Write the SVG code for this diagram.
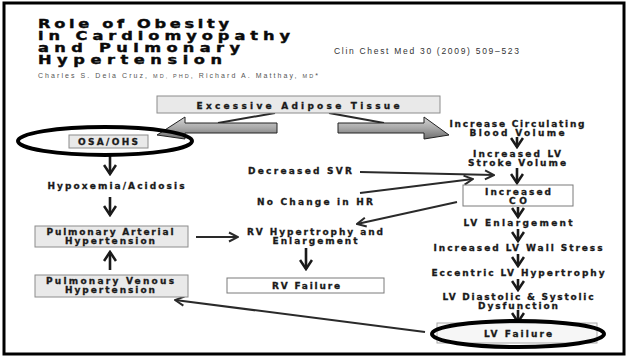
<svg xmlns="http://www.w3.org/2000/svg" width="629" height="358" viewBox="0 0 629 358">
<defs>
<style>
.lbl{font-family:"DejaVu Sans","Liberation Sans",sans-serif;font-weight:bold;font-size:9px;fill:#1a1a1a;stroke:#1a1a1a;stroke-width:0.3;text-anchor:middle}
.ttl{font-family:"DejaVu Sans","Liberation Sans",sans-serif;font-weight:bold;font-size:12px;fill:#0a0a0a;stroke:#0a0a0a;stroke-width:0.4}
.gbox{fill:#e9e9e9;stroke:#8c8c8c;stroke-width:1}
.wbox{fill:#fff;stroke:#7a7a7a;stroke-width:1}
.thick{fill:none;stroke:#1a1a1a;stroke-width:2.6}
.thin{fill:none;stroke:#2a2a2a;stroke-width:2}
.ring{fill:none;stroke:#000;stroke-width:4}
.blk{fill:url(#gr);stroke:#222;stroke-width:1}
</style>
<linearGradient id="gr" x1="0" y1="0" x2="0" y2="1">
<stop offset="0" stop-color="#d6d6d6"/>
<stop offset="0.5" stop-color="#a8a8a8"/>
<stop offset="1" stop-color="#6e6e6e"/>
</linearGradient>
<marker id="hd" viewBox="0 0 14 14" refX="12" refY="7" markerWidth="14" markerHeight="14" markerUnits="userSpaceOnUse" orient="auto">
<path d="M3,1 L12,7 L3,13" fill="none" stroke="#1a1a1a" stroke-width="2.6"/>
</marker>
<marker id="ah" viewBox="0 0 12 12" refX="11" refY="6" markerWidth="12" markerHeight="12" markerUnits="userSpaceOnUse" orient="auto">
<path d="M2,1.5 L11,6 L2,10.5" fill="none" stroke="#2a2a2a" stroke-width="2"/>
</marker>
</defs>
<rect x="0" y="0" width="629" height="358" fill="#fff"/>
<rect x="4" y="3" width="620" height="351" fill="none" stroke="#000" stroke-width="3"/>

<g id="title">
<text class="ttl" transform="translate(38,28) scale(1.35,1)" textLength="141.5" lengthAdjust="spacing">Role of Obesity</text>
<text class="ttl" transform="translate(38,40) scale(1.35,1)" textLength="186.7" lengthAdjust="spacing">in Cardiomyopathy</text>
<text class="ttl" transform="translate(38,52) scale(1.35,1)" textLength="149.6" lengthAdjust="spacing">and Pulmonary</text>
<text class="ttl" transform="translate(38,64) scale(1.35,1)" textLength="136.3" lengthAdjust="spacing">Hypertension</text>
<text x="334" y="54" font-family="Liberation Sans, Arial, sans-serif" font-size="8.5" fill="#333" textLength="185" lengthAdjust="spacing">Clin Chest Med 30 (2009) 509–523</text>
<text x="38" y="78" font-family="Liberation Sans, Arial, sans-serif" font-size="7" fill="#555" textLength="280" lengthAdjust="spacing">Charles S. Dela Cruz, <tspan font-size="5.5">MD, PHD</tspan>, Richard A. Matthay, <tspan font-size="5.5">MD</tspan>*</text>
</g>

<g id="connectors">
<path class="thin" d="M275,113 L218,123"/>
<path class="thin" d="M329,113 L384,123"/>
<polygon class="blk" points="277,123 185,123 185,117 157,135 185,139 185,133 277,133"/>
<polygon class="blk" points="338,123 424,123 424,117 449,135 424,139 424,133 338,133"/>
<path class="thick" d="M110,155 V174" marker-end="url(#hd)"/>
<path class="thick" d="M110,197 V215" marker-end="url(#hd)"/>
<path class="thick" d="M110,270 V252" marker-end="url(#hd)"/>
<path class="thin" d="M196,237 H238" marker-end="url(#ah)"/>
<path class="thick" d="M306,248 V269" marker-end="url(#hd)"/>
<path class="thin" d="M360,172 L494,175" marker-end="url(#ah)"/>
<path class="thin" d="M360,193 L473,179" marker-end="url(#ah)"/>
<path class="thin" d="M457,202 L357,224" marker-end="url(#ah)"/>
<path class="thin" d="M425,332 L175,300" marker-end="url(#ah)"/>
<path class="thick" d="M517,137 V147" marker-end="url(#hd)"/>
<path class="thick" d="M517,168 V183" marker-end="url(#hd)"/>
<path class="thick" d="M518,207 V217" marker-end="url(#hd)"/>
<path class="thick" d="M518,229 V241" marker-end="url(#hd)"/>
<path class="thick" d="M518,254 V266" marker-end="url(#hd)"/>
<path class="thick" d="M518,279 V290" marker-end="url(#hd)"/>
<path class="thick" d="M518,310 V322" marker-end="url(#hd)"/>
</g>

<g id="excessive">
<rect class="gbox" x="157" y="96" width="283" height="17"/>
<text class="lbl" x="298" y="108.5" font-size="11" textLength="203" lengthAdjust="spacing">Excessive Adipose Tissue</text>
</g>
<g id="osa">
<rect class="gbox" x="69" y="135" width="79" height="13"/>
<text class="lbl" x="108" y="145" textLength="60" lengthAdjust="spacing">OSA/OHS</text>
<ellipse class="ring" cx="105" cy="141" rx="87" ry="14"/>
</g>
<g id="hypoxemia">
<text class="lbl" x="116" y="189" textLength="137" lengthAdjust="spacing">Hypoxemia/Acidosis</text>
</g>
<g id="pah">
<rect class="gbox" x="35" y="226" width="153" height="21"/>
<text class="lbl" x="110" y="235" textLength="127" lengthAdjust="spacing">Pulmonary Arterial</text>
<text class="lbl" x="110" y="244" textLength="90" lengthAdjust="spacing">Hypertension</text>
</g>
<g id="pvh">
<rect class="gbox" x="35" y="275" width="153" height="22"/>
<text class="lbl" x="110" y="284" textLength="128" lengthAdjust="spacing">Pulmonary Venous</text>
<text class="lbl" x="110" y="293" textLength="90" lengthAdjust="spacing">Hypertension</text>
</g>
<g id="svr">
<text class="lbl" x="300" y="174" textLength="104" lengthAdjust="spacing">Decreased SVR</text>
</g>
<g id="hr">
<text class="lbl" x="315" y="205" textLength="116" lengthAdjust="spacing">No Change in HR</text>
</g>
<g id="rvh">
<text class="lbl" x="315" y="235" textLength="136" lengthAdjust="spacing">RV Hypertrophy and</text>
<text class="lbl" x="315" y="244" textLength="85" lengthAdjust="spacing">Enlargement</text>
</g>
<g id="rvf">
<rect class="wbox" x="227" y="278" width="157" height="15"/>
<text class="lbl" x="306" y="289" textLength="68" lengthAdjust="spacing">RV Failure</text>
</g>
<g id="blood">
<text class="lbl" x="517" y="127" textLength="135" lengthAdjust="spacing">Increase Circulating</text>
<text class="lbl" x="517" y="136" textLength="95" lengthAdjust="spacing">Blood Volume</text>
</g>
<g id="stroke">
<text class="lbl" x="517" y="157" textLength="88" lengthAdjust="spacing">Increased LV</text>
<text class="lbl" x="517" y="166" textLength="98" lengthAdjust="spacing">Stroke Volume</text>
</g>
<g id="co">
<rect class="wbox" x="463" y="185" width="110" height="21"/>
<text class="lbl" x="518" y="194.5" textLength="66" lengthAdjust="spacing">Increased</text>
<text class="lbl" x="518" y="203.5" textLength="18" lengthAdjust="spacing">CO</text>
</g>
<g id="lve">
<text class="lbl" x="518" y="226" textLength="109" lengthAdjust="spacing">LV Enlargement</text>
</g>
<g id="wall">
<text class="lbl" x="518" y="251" textLength="169" lengthAdjust="spacing">Increased LV Wall Stress</text>
</g>
<g id="ecc">
<text class="lbl" x="518" y="276" textLength="173" lengthAdjust="spacing">Eccentric LV Hypertrophy</text>
</g>
<g id="dys">
<text class="lbl" x="518" y="300" textLength="151" lengthAdjust="spacing">LV Diastolic &amp; Systolic</text>
<text class="lbl" x="518" y="309" textLength="80" lengthAdjust="spacing">Dysfunction</text>
</g>
<g id="lvf">
<rect x="437" y="323" width="160" height="20" fill="#f6f6f6" stroke="#aaa" stroke-width="1"/>
<text class="lbl" x="518" y="337" textLength="68" lengthAdjust="spacing">LV Failure</text>
<ellipse class="ring" cx="518" cy="334" rx="86" ry="13"/>
</g>
</svg>
